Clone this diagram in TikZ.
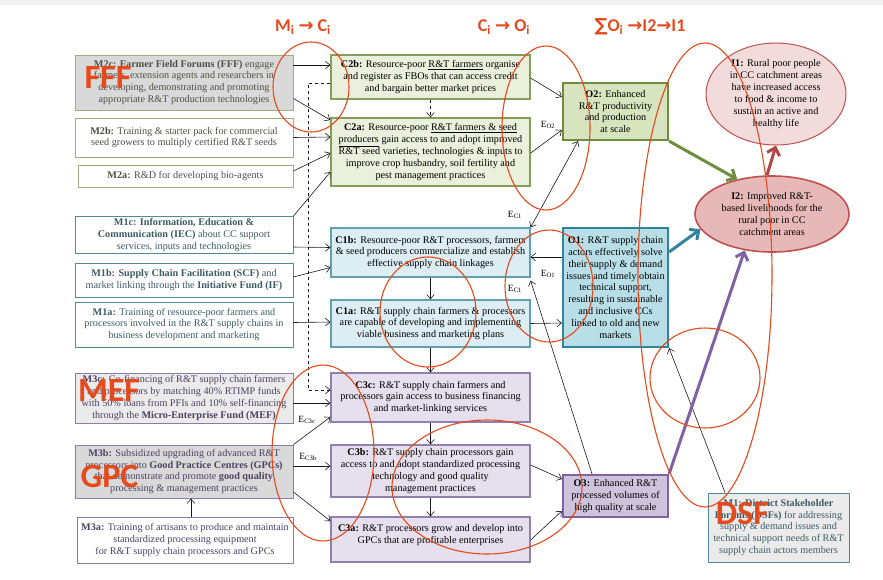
\documentclass[tikz,border=0pt]{standalone}
\usepackage{fontspec}
\usepackage{xcolor}
\usepackage{tikz}
\setmainfont{Liberation Serif}
\newfontfamily\notefont{Carlito}[BoldFont={Carlito Bold}]
\newfontfamily\symfont{DejaVu Sans}
\usetikzlibrary{positioning,calc,arrows.meta,shapes.geometric}

\definecolor{mgborder}{HTML}{9DAE7E}
\definecolor{mgtext}{HTML}{4F4F42}
\definecolor{mbborder}{HTML}{4F8C98}
\definecolor{mbtext}{HTML}{3B5C66}
\definecolor{mpborder}{HTML}{8A7AAE}
\definecolor{mptext}{HTML}{4C4262}
\definecolor{cgfill}{HTML}{EAF0DC}
\definecolor{cgborder}{HTML}{869C5A}
\definecolor{cbfill}{HTML}{DCEDF3}
\definecolor{cbborder}{HTML}{62A0AE}
\definecolor{cpfill}{HTML}{E6E0EE}
\definecolor{cpborder}{HTML}{9080B0}
\definecolor{ogfill}{HTML}{D8E4BE}
\definecolor{ogborder}{HTML}{6F8D3E}
\definecolor{obfill}{HTML}{B8DEE8}
\definecolor{obborder}{HTML}{31849B}
\definecolor{opfill}{HTML}{CEC3DC}
\definecolor{opborder}{HTML}{7D63A1}
\definecolor{ionefill}{HTML}{F2DCDB}
\definecolor{itwofill}{HTML}{E6B9B8}
\definecolor{iborder}{HTML}{C0504D}
\definecolor{marker}{HTML}{E44A1C}

\begin{document}
\begin{tikzpicture}[x=1pt,y=-1pt,
    >={Straight Barb[length=4.5pt,width=7.5pt]},
    box/.style = {draw, align=center, inner sep=0.5pt, line width=0.9pt,
                  font=\fontsize{10.2}{11.9}\selectfont},
    mgreen/.style = {box, draw=mgborder, fill=white, text=mgtext},
    mblue/.style = {box, draw=mbborder, fill=white, text=mbtext},
    mpurple/.style = {box, draw=mpborder, fill=white, text=mptext},
    cgreen/.style = {box, draw=cgborder, fill=cgfill, line width=1.2pt},
    cblue/.style = {box, draw=cbborder, fill=cbfill, line width=1.2pt},
    cpurple/.style = {box, draw=cpborder, fill=cpfill, line width=1.2pt},
    ogreen/.style = {box, draw=ogborder, fill=ogfill, line width=2.2pt},
    oblue/.style = {box, draw=obborder, fill=obfill, line width=2.2pt},
    opurple/.style = {box, draw=opborder, fill=opfill, line width=2.2pt},
    impact/.style = {ellipse, draw=iborder, align=center, inner sep=0pt,
                     font=\fontsize{10.2}{11.9}\selectfont},
    elabel/.style = {inner sep=0pt, font=\fontsize{9.5}{10}\selectfont},
    link/.style = {->, line width=0.6pt, black!90},
    fat/.style = {-{Straight Barb[length=7pt,width=13pt]}, line width=3pt},
    note/.style = {text=marker, inner sep=0pt, font=\notefont\bfseries\fontsize{18}{20}\selectfont},
    bignote/.style = {text=marker, inner sep=0pt, font=\notefont\bfseries\fontsize{34}{36}\selectfont},
    ring/.style = {draw=marker, line width=1.1pt}]
    \useasboundingbox (0,0) rectangle (883,579);
    \fill[white] (0,0) rectangle (883,579);
    \fill[black!5] (0,0) rectangle (883,5);

    % Mechanisms
    \node[mgreen, fill=black!15, minimum width=218pt, minimum height=55pt] (m2c) at (184,82.5)
        {\textbf{M2c: Farmer Field Forums (FFF)} engage\\ farmers, extension agents and researchers in\\ developing, demonstrating and promoting\\ appropriate R\&T production technologies};
    \node[mgreen, minimum width=218pt, minimum height=39pt] (m2b) at (184,137.5)
        {\textbf{M2b:} Training \& starter pack for commercial\\ seed growers to multiply certified R\&T seeds};
    \node[mgreen, minimum width=215pt, minimum height=22pt] (m2a) at (185.5,176)
        {\textbf{M2a:} R\&D for developing bio-agents};
    \node[mblue, minimum width=218pt, minimum height=37pt] (m1c) at (184,235)
        {\textbf{M1c: Information, Education \&}\\ \textbf{Communication (IEC)} about CC support\\ services, inputs and technologies};
    \node[mblue, minimum width=218pt, minimum height=34pt] (m1b) at (184,280)
        {\textbf{M1b: Supply Chain Facilitation (SCF)} and\\ market linking through the \textbf{Initiative Fund (IF)}};
    \node[mblue, minimum width=218pt, minimum height=45pt] (m1a) at (184,324.5)
        {\textbf{M1a:} Training of resource-poor farmers and\\ processors involved in the R\&T supply chains in\\ business development and marketing};
    \node[mpurple, fill=black!8, minimum width=218pt, minimum height=50pt] (m3c) at (184,398)
        {\textbf{M3c:} Co-financing of R\&T supply chain farmers\\ and processors by matching 40\% RTIMP funds\\ with 50\% loans from PFIs and 10\% self-financing\\ through the \textbf{Micro-Enterprise Fund (MEF)}};
    \node[mpurple, fill=black!15, minimum width=218pt, minimum height=53pt] (m3b) at (184,471.5)
        {\textbf{M3b:} Subsidized upgrading of advanced R\&T\\ processors into \textbf{Good Practice Centres (GPCs)}\\ that demonstrate and promote \textbf{good quality}\\ processing \& management practices};
    \node[mpurple, minimum width=216pt, minimum height=46pt] (m3a) at (185,540)
        {\textbf{M3a:} Training of artisans to produce and maintain\\ standardized processing equipment\\ for R\&T supply chain processors and GPCs};
    \node[mblue, fill=black!8, minimum width=141pt, minimum height=69pt] (m1) at (778.5,527.5)
        {\textbf{M1: District Stakeholder}\\ \textbf{Forums (DSFs)} for addressing\\ supply \& demand issues and\\ technical support needs of R\&T\\ supply chain actors members};

    % Capacities
    \node[cgreen, minimum width=199pt, minimum height=44pt] (c2b) at (430.5,77)
        {\textbf{C2b:} Resource-poor \underline{R\&T farmers} organise\\ and register as FBOs that can access credit\\ and bargain better market prices};
    \node[cgreen, minimum width=199pt, minimum height=68pt] (c2a) at (430.5,152)
        {\textbf{C2a:} Resource-poor \underline{R\&T farmers \& seed}\\ \underline{producers} gain access to and adopt improved\\ R\&T seed varieties, technologies \& inputs to\\ improve crop husbandry, soil fertility and\\ pest management practices};
    \node[cblue, minimum width=199pt, minimum height=49pt] (c1b) at (430.5,252.5)
        {\textbf{C1b:} Resource-poor R\&T processors, farmers\\ \& seed producers commercialize and establish\\ effective supply chain linkages};
    \node[cblue, minimum width=199pt, minimum height=47pt] (c1a) at (430.5,323.5)
        {\textbf{C1a:} R\&T supply chain farmers \& processors\\ are capable of developing and implementing\\ viable business and marketing plans};
    \node[cpurple, minimum width=199pt, minimum height=49pt] (c3c) at (430.5,397.5)
        {\textbf{C3c:} R\&T supply chain farmers and\\ processors gain access to business financing\\ and market-linking services};
    \node[cpurple, minimum width=199pt, minimum height=52pt] (c3b) at (430.5,471)
        {\textbf{C3b:} R\&T supply chain processors gain\\ access to and adopt standardized processing\\ technology and good quality\\ management practices};
    \node[cpurple, minimum width=199pt, minimum height=45pt] (c3a) at (430.5,539.5)
        {\textbf{C3a:} R\&T processors grow and develop into\\ GPCs that are profitable enterprises\\ ~};

    % Outcomes
    \node[ogreen, minimum width=105pt, minimum height=57pt] (o2) at (615.5,111.5)
        {\textbf{O2:} Enhanced\\ R\&T productivity\\ and production\\ at scale};
    \node[oblue, minimum width=105pt, minimum height=119pt] (o1) at (615.5,287.5)
        {\textbf{O1:} R\&T supply chain\\ actors effectively solve\\ their supply \& demand\\ issues and timely obtain\\ technical support,\\ resulting in sustainable\\ and inclusive CCs\\ linked to old and new\\ markets};
    \node[opurple, minimum width=105pt, minimum height=42pt] (o3) at (615.5,496)
        {\textbf{O3:} Enhanced R\&T\\ processed volumes of\\ high quality at scale};

    % Impacts
    \node[impact, fill=ionefill, line width=1pt, minimum width=140pt, minimum height=102pt] (i1) at (776,94)
        {\textbf{I1:} Rural poor people\\ in CC catchment areas\\ have increased access\\ to food \& income to\\ sustain an active and\\ healthy life};
    \node[impact, fill=itwofill, line width=1.6pt, minimum width=154pt, minimum height=76pt] (i2) at (772,214)
        {\textbf{I2:} Improved R\&T-\\ based livelihoods for the\\ rural poor in CC\\ catchment areas};

    % Mechanisms to capacities
    \draw[link] ($(m2c.east)+(0,-17.5)$) -- ($(c2b.west)+(0,-12)$);
    \draw[link] ($(m2c.east)+(0,16)$) -- ($(c2a.west)+(0,-32)$);
    \draw[link] (m2b.east) -- ($(c2a.west)+(0,-15)$);
    \draw[link] ($(m2a.east)+(0,-5)$) -- ($(c2a.west)+(0,1)$);
    \draw[link] (m1c.north east) -- ($(c2a.west)+(0,20)$);
    \draw[link] ($(m1c.east)+(0,12)$) -- ($(c1b.west)+(0,-5)$);
    \draw[link] ($(m1b.east)+(0,-3)$) -- ($(c1b.west)+(0,15)$);
    \draw[link] ($(m1a.east)+(0,-2)$) -- ($(c1a.west)+(0,-1.5)$);
    \draw[link] ($(m3c.east)+(0,5)$) -- ($(c3c.west)+(0,5.5)$);
    \draw[link] (m3b.north east) -- ($(c3c.west)+(0,19.5)$);
    \draw[link] ($(m3b.east)+(0,-5.5)$) -- ($(c3b.west)+(0,-5)$);
    \draw[link] ($(m3b.east)+(0,20.5)$) -- ($(c3a.west)+(0,-18.5)$);
    \draw[link] ($(m3a.north)+(6,0)$) -- ($(m3b.south)+(7,0)$);
    \draw[link, dashed] ($(c2b.west)+(0,6)$) -- ++(-22,0) |- ($(c3c.west)+(0,-7.5)$);
    \node[elabel] (ec3c) at (307,420) {E\textsubscript{C3c}};
    \node[elabel] (ec3b) at (308,457) {E\textsubscript{C3b}};

    % Capacities to capacities
    \draw[link, dashed] (c2b.south) -- (c2a.north);
    \draw[link] (c1b.south) -- (c1a.north);
    \draw[link] (c1a.south) -- (c3c.north);
    \draw[link] (c3c.south) -- (c3b.north);
    \draw[link] (c3b.south) -- (c3a.north);

    % Capacities to outcomes
    \draw[link] ($(c2b.east)+(0,1)$) -- ($(o2.west)+(0,-14.5)$);
    \draw[link] ($(c2a.east)+(0,1)$) -- ($(o2.west)+(0,18.5)$);
    \draw[link, <->] ($(o2.south)+(-37.5,0)$) -- (c1b.north east);
    \draw[link] ($(o1.west)+(0,-30.5)$) -- ($(c1b.east)+(0,4.5)$);
    \draw[link] (c1a.east) -- ($(o1.west)+(0,35.5)$);
    \draw[link] ($(o3.north)+(-23.5,0)$) -- ($(c1b.south east)+(0,3)$);
    \draw[link] ($(m1.north)+(-53.5,0)$) -- (o1.south east);
    \draw[link] ($(c3b.east)+(0,-6)$) -- ($(o3.west)+(0,-17)$);
    \draw[link] ($(c3a.east)+(0,0.5)$) -- ($(o3.west)+(0,15)$);
    \node[elabel] (eo2) at (548,125) {E\textsubscript{O2}};
    \node[elabel] (ec1t) at (515,215) {E\textsubscript{C1}};
    \node[elabel] (eo1) at (548,274) {E\textsubscript{O1}};
    \node[elabel] (ec1b) at (515,289) {E\textsubscript{C1}};

    % Outcomes to impacts
    \draw[fat, ogborder] (o2.south east) -- (i2.135);
    \draw[fat, obborder] ($(o1.east)+(0,-35.5)$) -- (i2.192);
    \draw[fat, opborder] (o3.north east) -- (i2.233);
    \draw[fat, iborder!90!black] ($(i2.north)+(-5,0)$) -- (i1.south);

    % Hand-drawn marks
    \node[note] (hmc) at (303,27) {M\textsubscript{i} {\symfont\bfseries →} C\textsubscript{i}};
    \node[note] (hco) at (504,27) {C\textsubscript{i} {\symfont\bfseries →} O\textsubscript{i}};
    \node[note] (hoi) at (640,27) {{\symfont ∑}O\textsubscript{i} {\symfont\bfseries →}I2{\symfont\bfseries →}I1};
    \node[bignote] (fff) at (108,77) {FFF};
    \node[bignote] (mef) at (109,390) {MEF};
    \node[bignote] (gpc) at (109.5,476.5) {GPC};
    \node[bignote] (dsf) at (742.5,513.5) {DSF};
    \draw[ring] (311,87) ellipse [x radius=38, y radius=45];
    \draw[ring] (546,128) ellipse [x radius=44, y radius=82];
    \draw[ring] (705,275) ellipse [x radius=67, y radius=232];
    \draw[ring] (705,378) ellipse [x radius=55, y radius=50];
    \draw[ring] (549,286) ellipse [x radius=44, y radius=56];
    \draw[ring] (428,312) ellipse [x radius=48, y radius=55];
    \draw[ring] (323,453) ellipse [x radius=51, y radius=88];
    \draw[ring] (487,487) ellipse [x radius=95, y radius=67];
\end{tikzpicture}
\end{document}
